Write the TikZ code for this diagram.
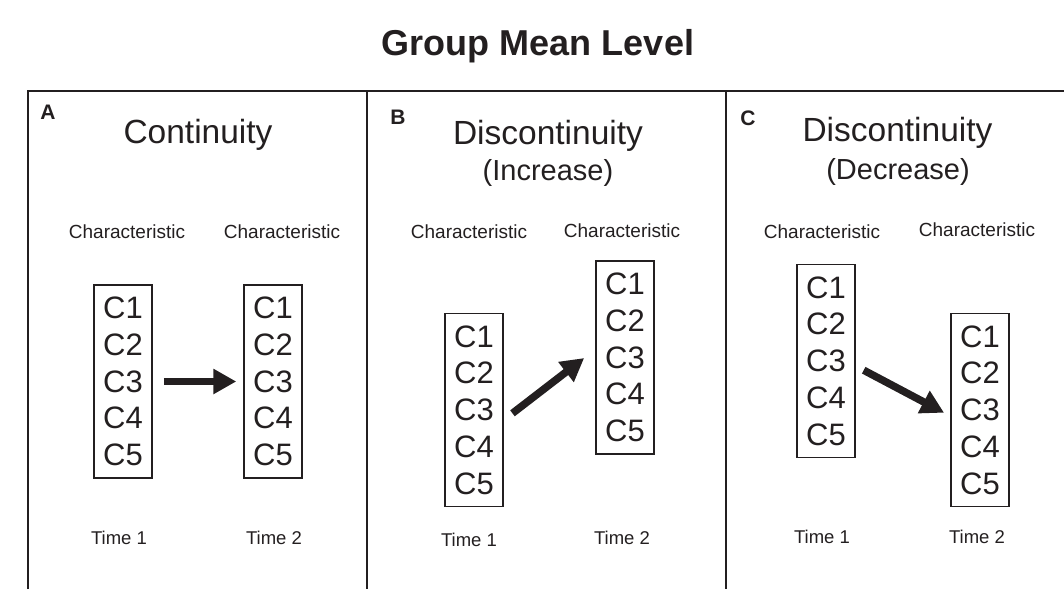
\documentclass[tikz,border=0pt]{standalone}
\usepackage{fontspec}
\setmainfont{Liberation Sans}
\usetikzlibrary{arrows.meta}
\definecolor{ink}{HTML}{231F20}
\begin{document}
\begin{tikzpicture}[x=1pt,y=-1pt,
  frameline/.style={draw=ink, line width=2.8pt, line join=miter},
  charbox/.style={draw=ink, line width=1.5pt, minimum width=58pt, minimum height=193pt,
    inner sep=0pt, align=center, text=ink, font=\fontsize{31}{36.75}\selectfont},
  panellabel/.style={text=ink, inner sep=0pt, font=\fontsize{21}{24}\selectfont\bfseries},
  headline/.style={text=ink, inner sep=0pt, font=\fontsize{33.5}{38}\selectfont},
  subline/.style={text=ink, inner sep=0pt, font=\fontsize{29}{34}\selectfont},
  charlabel/.style={text=ink, inner sep=0pt, font=\fontsize{19}{22}\selectfont},
  timelabel/.style={text=ink, inner sep=0pt, font=\fontsize{18.5}{22}\selectfont},
  levelarrow/.style={draw=ink, line width=7.5pt, -{Triangle[length=23pt,width=24pt]}}
]
\useasboundingbox (0,0) rectangle (1064,589);

% overall title
\node[text=ink, inner sep=0pt, font=\fontsize{36}{40}\selectfont\bfseries] (title) at (538,46) {Group Mean Level};

% panel frame
\draw[frameline] (28,589) -- (28,91) -- (1064,91);
\draw[frameline] (367,91) -- (367,589);
\draw[frameline] (726,91) -- (726,589);

% ---------- panel A: continuity ----------
\node[panellabel] (labA) at (48,112) {A};
\node[headline] (headA) at (198,135) {Continuity};
\node[charlabel] (chA1) at (127,232) {Characteristic};
\node[charlabel] (chA2) at (282,232) {Characteristic};
\node[charbox] (boxA1) at (123,381.5) {C1\\C2\\C3\\C4\\C5};
\node[charbox] (boxA2) at (273,381.5) {C1\\C2\\C3\\C4\\C5};
\draw[levelarrow, shorten <=11pt, shorten >=7pt] (boxA1.east) -- (boxA2.west);
\node[timelabel] (tA1) at (119,538) {Time 1};
\node[timelabel] (tA2) at (274,538) {Time 2};

% ---------- panel B: increase ----------
\node[panellabel] (labB) at (398,117) {B};
\node[headline] (headB) at (548,136) {Discontinuity};
\node[subline] (subB) at (548,173) {(Increase)};
\node[charlabel] (chB1) at (469,232) {Characteristic};
\node[charlabel] (chB2) at (622,231) {Characteristic};
\node[charbox] (boxB1) at (474,410) {C1\\C2\\C3\\C4\\C5};
\node[charbox] (boxB2) at (625,357.5) {C1\\C2\\C3\\C4\\C5};
\draw[levelarrow, shorten <=11pt, shorten >=14pt] ([yshift=-10pt]boxB1.east) -- ([yshift=8pt]boxB2.west);
\node[timelabel] (tB1) at (469,540) {Time 1};
\node[timelabel] (tB2) at (622,538) {Time 2};

% ---------- panel C: decrease ----------
\node[panellabel] (labC) at (748,118) {C};
\node[headline] (headC) at (897.5,133) {Discontinuity};
\node[subline] (subC) at (898,172) {(Decrease)};
\node[charlabel] (chC1) at (822,232) {Characteristic};
\node[charlabel] (chC2) at (977,230) {Characteristic};
\node[charbox] (boxC1) at (826,361) {C1\\C2\\C3\\C4\\C5};
\node[charbox] (boxC2) at (980,410) {C1\\C2\\C3\\C4\\C5};
\draw[levelarrow, shorten <=9pt, shorten >=7pt] ([yshift=-5pt]boxC1.east) -- ([yshift=-6pt]boxC2.west);
\node[timelabel] (tC1) at (822,537) {Time 1};
\node[timelabel] (tC2) at (977,537) {Time 2};
\end{tikzpicture}
\end{document}
